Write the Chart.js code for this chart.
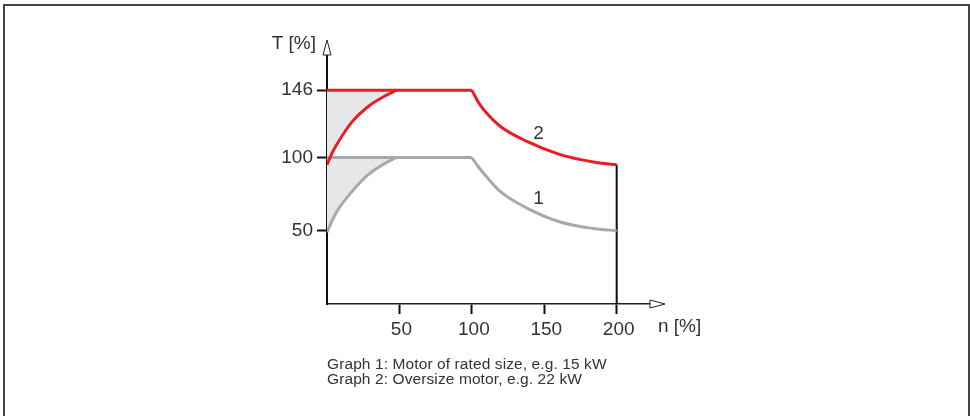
<!DOCTYPE html>
<html>
<head>
<meta charset="utf-8">
<script src="https://cdn.jsdelivr.net/npm/chart.js@4.4.1/dist/chart.umd.min.js"></script>
<style>
  html, body { margin: 0; padding: 0; background: #fff; }
  body { width: 970px; height: 416px; position: relative; overflow: hidden; }
  .frame {
    position: absolute; left: 3px; top: 4px; width: 963px; height: 440px;
    border-left: 2px solid #444; border-top: 2px solid #444; border-right: 2px solid #444;
  }
  #myChart { position: absolute; left: 0; top: 0; }
  .note {
    position: absolute; left: 327px; top: 356px;
    font-family: 'Liberation Sans', Arial, sans-serif; font-size: 15.5px; letter-spacing: 0.1px;
    line-height: 15px; color: #333;
  }
</style>
</head>
<body>
<div class="frame"></div>
<canvas id="myChart" width="970" height="416"></canvas>
<div class="note">Graph 1: Motor of rated size, e.g. 15 kW<br>Graph 2: Oversize motor, e.g. 22 kW</div>
<script>
const RED = '#ed1c24';
const GRAY = '#a7a9ac';
const SHADE = '#e6e7e8';
const INK = '#333';
const FONT = "'Liberation Sans', Arial, sans-serif";

// speed n [%] and torque T [%]
const xTicks = [50, 100, 150, 200];
const yTicks = [50, 100, 146];

const riseN = [0, 4, 8, 17, 28, 40, 48];
const redRise = [95, 104, 111, 124, 134.5, 142, 146];
const grayRise = [49, 58, 65, 76.5, 88, 96, 100];

const flatN = [0, 100];
const redFlat = [146, 146];
const grayFlat = [100, 100];

const fallN = [100, 105, 110, 120, 138, 161, 184, 200];
const redFall = [146, 137, 130.5, 121, 111, 102, 97, 95];
const grayFall = [100, 93, 87, 76.5, 65.5, 56, 51.5, 50];

const limitN = [200, 200];
const limitT = [95, 0];

const curveNames = ['1', '2'];
const curveNameN = [146, 146];
const curveNameT = [72, 116];

const pts = (xs, ys) => xs.map((x, i) => ({ x, y: ys[i] }));

function line(data, color, extra) {
    return Object.assign({
        data,
        borderColor: color,
        borderWidth: 3,
        pointRadius: 0,
        fill: false,
        cubicInterpolationMode: 'monotone',
    }, extra || {});
}

const decorations = {
    id: 'decorations',
    afterDraw(chart) {
        const c = chart.ctx;
        const x = chart.scales.x;
        const y = chart.scales.y;
        const ox = x.left, oy = y.bottom;

        c.save();
        c.strokeStyle = '#222';
        c.fillStyle = '#fff';
        c.lineWidth = 1;

        // hollow arrow heads on both axes
        c.beginPath();
        c.moveTo(ox - 4, y.top);
        c.lineTo(ox, y.top - 15);
        c.lineTo(ox + 4, y.top);
        c.closePath();
        c.fill();
        c.stroke();

        c.beginPath();
        c.moveTo(x.right, oy - 4);
        c.lineTo(x.right + 15, oy);
        c.lineTo(x.right, oy + 4);
        c.closePath();
        c.fill();
        c.stroke();

        c.fillStyle = INK;
        c.font = '19px ' + FONT;
        c.textBaseline = 'middle';
        c.textAlign = 'right';
        c.fillText('T [%]', ox - 11, y.top - 11);
        c.textAlign = 'left';
        c.fillText('n [%]', x.right + 8, oy + 23);

        c.textAlign = 'center';
        curveNames.forEach((name, i) => {
            c.fillText(name, x.getPixelForValue(curveNameN[i]), y.getPixelForValue(curveNameT[i]));
        });
        c.restore();
    }
};

new Chart(document.getElementById('myChart'), {
    type: 'line',
    data: {
        datasets: [
            line(pts(riseN, redRise), RED, { fill: { value: 146 }, backgroundColor: SHADE }),
            line(pts(flatN, redFlat), RED),
            line(pts(fallN, redFall), RED),
            line(pts(riseN, grayRise), GRAY, { fill: { value: 100 }, backgroundColor: SHADE }),
            line(pts(flatN, grayFlat), GRAY),
            line(pts(fallN, grayFall), GRAY),
            line(pts(limitN, limitT), '#111', { borderWidth: 2, cubicInterpolationMode: 'default' }),
        ]
    },
    options: {
        responsive: false,
        animation: false,
        layout: { padding: { left: 0, top: 55, right: 320, bottom: 0 } },
        plugins: {
            legend: { display: false },
            tooltip: { enabled: false },
            filler: { drawTime: 'beforeDatasetsDraw' },
        },
        scales: {
            x: {
                type: 'linear',
                min: 0,
                max: 223,
                afterFit: (s) => { s.height = 112; },
                afterBuildTicks: (s) => { s.ticks = xTicks.map(v => ({ value: v })); },
                border: { display: true, color: '#222', width: 1.5 },
                grid: { drawOnChartArea: false, drawTicks: true, tickLength: 10, tickColor: '#111', tickWidth: 2 },
                ticks: { autoSkip: false, maxRotation: 0, padding: 4, labelOffset: 2, color: INK, font: { family: FONT, size: 19 } },
            },
            y: {
                type: 'linear',
                min: 0,
                max: 170,
                afterFit: (s) => { s.width = 327; },
                afterBuildTicks: (s) => { s.ticks = yTicks.map(v => ({ value: v })); },
                border: { display: true, color: '#111', width: 2 },
                grid: { drawOnChartArea: false, drawTicks: true, tickLength: 10, tickColor: '#111', tickWidth: 2 },
                ticks: { autoSkip: false, padding: 4, color: INK, font: { family: FONT, size: 19 } },
            }
        }
    },
    plugins: [decorations]
});
</script>
</body>
</html>
